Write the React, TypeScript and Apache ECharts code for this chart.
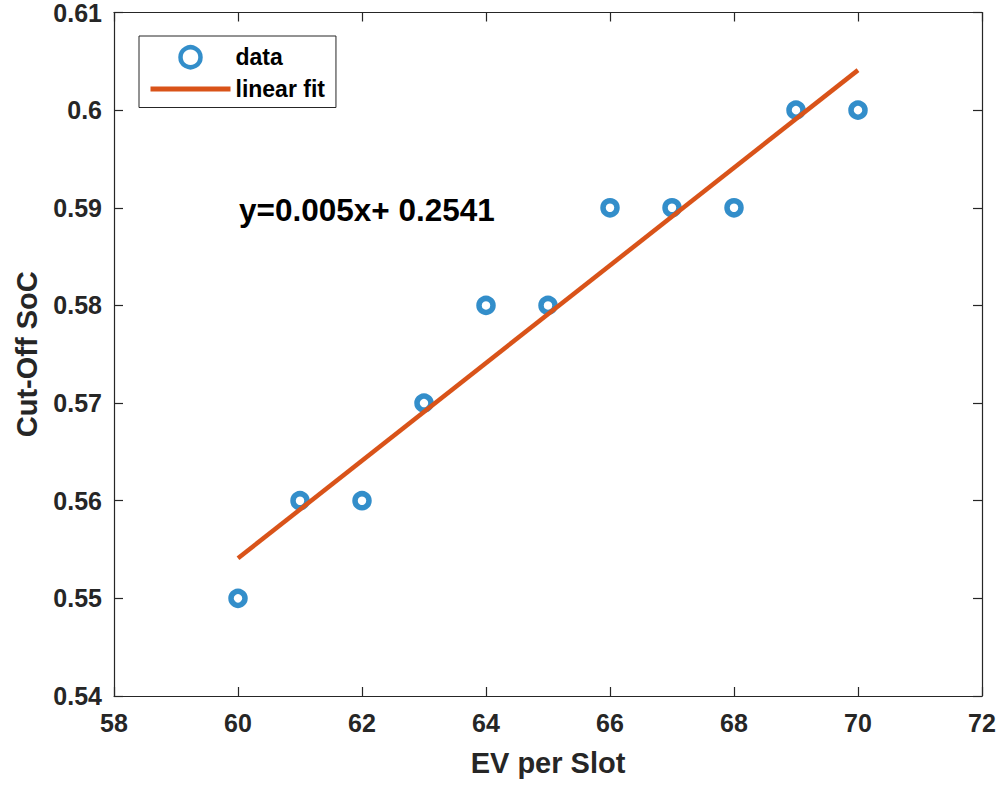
import React, { useEffect, useRef } from "react";
import * as echarts from "echarts";

const evPerSlot = [60, 61, 62, 63, 64, 65, 66, 67, 68, 69, 70];
const cutOffSoc = [0.55, 0.56, 0.56, 0.57, 0.58, 0.58, 0.59, 0.59, 0.59, 0.6, 0.6];
const fitX = [60, 70];
const fitY = [0.5541, 0.6041];
const equationText = "y=0.005x+ 0.2541";

const FONT = "'Liberation Sans', Arial, Helvetica, sans-serif";
const AXIS_COLOR = "#262626";
const BLUE = "#0072BD";
const ORANGE = "#D95319";

export default function App() {
  const ref = useRef<HTMLDivElement>(null);
  useEffect(() => {
    if (!ref.current) return;
    const chart = echarts.init(ref.current, null, { renderer: "svg" });
    const tickLabel = { fontSize: 25, fontWeight: "bold", color: AXIS_COLOR, fontFamily: FONT };
    const axisLine = { show: true, lineStyle: { color: AXIS_COLOR, width: 1.2 } };
    const tick = { show: true, inside: true, length: 9, lineStyle: { color: AXIS_COLOR, width: 1.2 } };
    const titleStyle = { fontSize: 29, fontWeight: "bold", color: AXIS_COLOR, fontFamily: FONT };
    chart.setOption({
      animation: false,
      backgroundColor: "#ffffff",
      textStyle: { fontFamily: FONT },
      grid: { left: 114, right: 23, top: 11, bottom: 91, containLabel: false },
      legend: {
        orient: "vertical",
        left: 139,
        top: 36,
        padding: [9, 11, 7, 9],
        itemWidth: 80,
        itemHeight: 20,
        itemGap: 8,
        borderColor: "#262626",
        borderWidth: 1,
        backgroundColor: "#ffffff",
        textStyle: { fontSize: 23, fontWeight: "bold", color: "#000", fontFamily: FONT },
        data: [
          { name: "data", icon: "circle", itemStyle: { color: "#ffffff", borderColor: BLUE, borderWidth: 4.5 } },
          {
            name: "linear fit",
            itemStyle: { color: "transparent", borderWidth: 0, opacity: 0 },
            lineStyle: { color: ORANGE, width: 5 },
          },
        ],
      },
      xAxis: [
        {
          type: "value",
          min: 58,
          max: 72,
          interval: 2,
          name: "EV per Slot",
          nameLocation: "middle",
          nameGap: 52,
          nameTextStyle: titleStyle,
          axisLine,
          axisTick: tick,
          axisLabel: { ...tickLabel, margin: 14 },
          splitLine: { show: false },
        },
        {
          type: "value",
          position: "top",
          min: 58,
          max: 72,
          interval: 2,
          axisLine,
          axisTick: tick,
          axisLabel: { show: false },
          splitLine: { show: false },
        },
      ],
      yAxis: [
        {
          type: "value",
          min: 0.54,
          max: 0.61,
          interval: 0.01,
          name: "Cut-Off SoC",
          nameLocation: "middle",
          nameGap: 73,
          nameTextStyle: titleStyle,
          axisLine,
          axisTick: tick,
          axisLabel: { ...tickLabel, margin: 12, formatter: (v: number) => String(+v.toFixed(2)) },
          splitLine: { show: false },
        },
        {
          type: "value",
          position: "right",
          min: 0.54,
          max: 0.61,
          interval: 0.01,
          axisLine,
          axisTick: tick,
          axisLabel: { show: false },
          splitLine: { show: false },
        },
      ],
      series: [
        {
          name: "data",
          type: "scatter",
          symbol: "circle",
          symbolSize: 14,
          itemStyle: { color: "#ffffff", borderColor: BLUE, borderWidth: 5.5 },
          data: evPerSlot.map((x, i) => [x, cutOffSoc[i]]),
          z: 3,
        },
        {
          name: "linear fit",
          type: "line",
          symbol: "none",
          lineStyle: { color: ORANGE, width: 4.5 },
          itemStyle: { color: ORANGE },
          data: fitX.map((x, i) => [x, fitY[i]]),
          z: 4,
        },
      ],
      graphic: [
        {
          type: "text",
          left: 239,
          top: 194,
          style: {
            text: equationText,
            fontSize: 31.5,
            fontWeight: "bold",
            fill: "#000",
            fontFamily: FONT,
          },
        },
      ],
    });
    return () => chart.dispose();
  }, []);
  return <div ref={ref} style={{ position: "fixed", left: 0, top: 0, width: 1005, height: 787 }} />;
}
